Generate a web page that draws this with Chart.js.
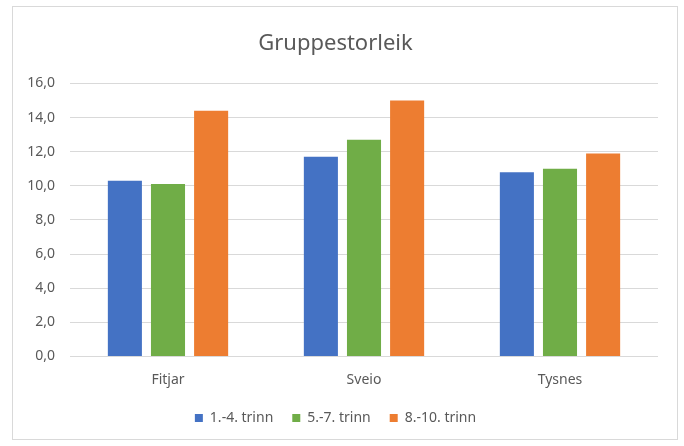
<!DOCTYPE html>
<html>
<head>
<meta charset="utf-8">
<script src="https://cdn.jsdelivr.net/npm/chart.js@4"></script>
<style>
    body { margin: 0; background: #fff; }
    #frame { position: absolute; left: 12px; top: 6px; width: 664px; height: 432px; border: 1px solid #d9d9d9; }
</style>
</head>
<body>
<div id="frame"><canvas id="chart"></canvas></div>
<script>
// Data
const categories = ['Fitjar', 'Sveio', 'Tysnes'];
const seriesNames = ['1.-4. trinn', '5.-7. trinn', '8.-10. trinn'];
const grade1to4 = [10.3, 11.7, 10.8];
const grade5to7 = [10.1, 12.7, 11.0];
const grade8to10 = [14.4, 15.0, 11.9];
const yTicks = [0, 2, 4, 6, 8, 10, 12, 14, 16];

const textColor = '#595959';
const fontFamily = '"Noto Sans", sans-serif';

const ctx = document.getElementById('chart').getContext('2d');
new Chart(ctx, {
    type: 'bar',
    data: {
        labels: categories,
        datasets: [
            { label: seriesNames[0], data: grade1to4, backgroundColor: '#4472C4' },
            { label: seriesNames[1], data: grade5to7, backgroundColor: '#70AD47' },
            { label: seriesNames[2], data: grade8to10, backgroundColor: '#ED7D31' }
        ]
    },
    options: {
        responsive: true,
        maintainAspectRatio: false,
        animation: false,
        categoryPercentage: 0.66,
        barPercentage: 0.79,
        layout: { padding: { left: 0, right: 19, top: 0, bottom: 7 } },
        plugins: {
            title: {
                display: true, text: 'Gruppestorleik', color: textColor,
                font: { family: fontFamily, size: 22, weight: 'normal' },
                padding: { top: 24, bottom: 26 }
            },
            legend: {
                position: 'bottom',
                maxHeight: 40,
                labels: {
                    color: textColor, boxWidth: 8, boxHeight: 8, padding: 19,
                    font: { family: fontFamily, size: 14 }
                }
            },
            tooltip: { enabled: false }
        },
        scales: {
            x: {
                grid: { display: false, drawTicks: false },
                border: { display: false },
                ticks: { color: textColor, padding: 15, font: { family: fontFamily, size: 14 } },
                afterFit: s => { s.height = 35.5; }
            },
            y: {
                min: 0, max: 16,
                afterBuildTicks: s => { s.ticks = yTicks.map(v => ({ value: v })); },
                grid: { color: '#d9d9d9', lineWidth: 1, drawTicks: false },
                border: { display: false },
                ticks: {
                    color: textColor, padding: 15,
                    font: { family: fontFamily, size: 14 },
                    callback: v => v.toFixed(1).replace('.', ',')
                },
                afterFit: s => { s.width = 57; }
            }
        }
    }
});
</script>
</body>
</html>
